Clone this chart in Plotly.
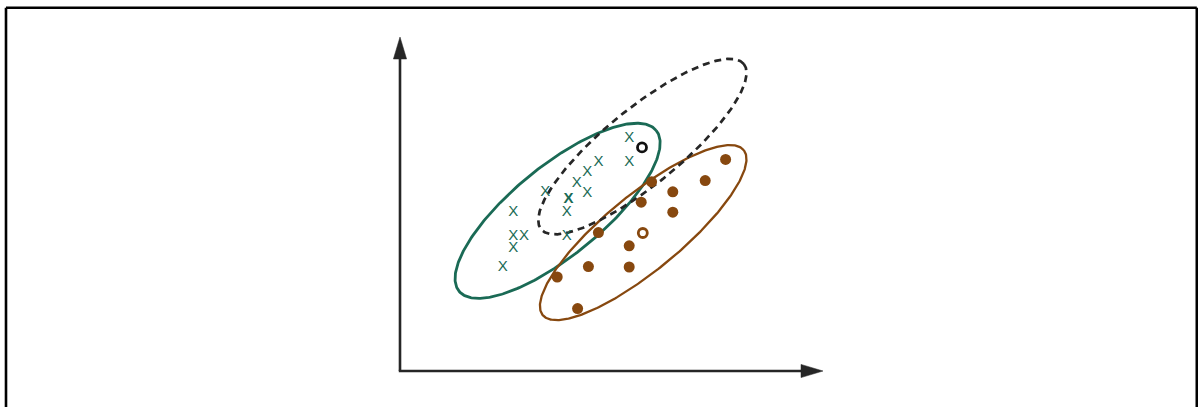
import numpy as np
import plotly.graph_objects as go

# ---- data (units: 1 unit = 40 px, origin at the drawn axes corner) ----
class_x_x = [5.73, 5.73, 4.96, 4.68, 4.42, 4.68, 3.63, 4.17, 4.17, 2.83, 2.83, 3.10, 2.83, 2.57]
class_x_y = [5.82, 5.23, 5.23, 4.96, 4.69, 4.44, 4.48, 3.96, 3.36, 3.96, 3.38, 3.36, 3.07, 2.59]
bold_x_x = [4.21]
bold_x_y = [4.29]

class_dot_x = [8.14, 7.63, 6.29, 6.82, 6.03, 6.82, 4.96, 5.73, 4.71, 5.73, 3.93, 4.44]
class_dot_y = [5.29, 4.76, 4.73, 4.48, 4.22, 3.97, 3.46, 3.13, 2.61, 2.60, 2.35, 1.56]

mean_black = (6.05, 5.59)
mean_brown = (6.07, 3.45)

# ellipses: center x, center y, semi-major, semi-minor, angle (deg)
ell_green = (3.94, 4.005, 3.18, 1.12, 39.2)
ell_brown = (6.08, 3.46, 3.25, 0.945, 39.4)
ell_dash = (6.06, 5.61, 3.27, 0.95, 39.2)

GREEN = "#1a6a55"
BROWN = "#87480f"
DARK = "#262626"


def ellipse(cx, cy, a, b, ang):
    t = np.linspace(0, 2 * np.pi, 361)
    th = np.deg2rad(ang)
    x = cx + a * np.cos(t) * np.cos(th) - b * np.sin(t) * np.sin(th)
    y = cy + a * np.cos(t) * np.sin(th) + b * np.sin(t) * np.cos(th)
    return x, y


fig = go.Figure()

ex, ey = ellipse(*ell_green)
fig.add_trace(go.Scatter(x=ex, y=ey, mode="lines", line=dict(color=GREEN, width=2.8), hoverinfo="skip"))
ex, ey = ellipse(*ell_brown)
fig.add_trace(go.Scatter(x=ex, y=ey, mode="lines", line=dict(color=BROWN, width=2.3), hoverinfo="skip"))
ex, ey = ellipse(*ell_dash)
fig.add_trace(go.Scatter(x=ex, y=ey, mode="lines", line=dict(color=DARK, width=2.7, dash="7px,5px"), hoverinfo="skip"))

fig.add_trace(go.Scatter(x=class_x_x, y=class_x_y, mode="text", text=["X"] * len(class_x_x),
                         textposition="middle center",
                         textfont=dict(family="Liberation Sans", size=15, color=GREEN)))
fig.add_trace(go.Scatter(x=bold_x_x, y=bold_x_y, mode="text", text=["<b>X</b>"],
                         textposition="middle center",
                         textfont=dict(family="Liberation Sans", size=15, color=GREEN)))
fig.add_trace(go.Scatter(x=class_dot_x, y=class_dot_y, mode="markers",
                         marker=dict(symbol="circle", size=11, color=BROWN, line=dict(width=0))))
fig.add_trace(go.Scatter(x=[mean_black[0]], y=[mean_black[1]], mode="markers",
                         marker=dict(symbol="circle-open", size=9, color="#111111", line=dict(width=2.8))))
fig.add_trace(go.Scatter(x=[mean_brown[0]], y=[mean_brown[1]], mode="markers",
                         marker=dict(symbol="circle-open", size=9, color=BROWN, line=dict(width=2.8))))

# axes with arrowheads
y_tip = 8.35
x_tip = 10.575
head_len = 0.55
head_half = 0.165
shapes = [
    dict(type="line", xref="x", yref="y", x0=0, y0=0, x1=0, y1=y_tip - head_len + 0.05,
         line=dict(color=DARK, width=2.6)),
    dict(type="line", xref="x", yref="y", x0=-0.03, y0=0, x1=x_tip - head_len + 0.05, y1=0,
         line=dict(color=DARK, width=2.6)),
    dict(type="path", xref="x", yref="y",
         path=f"M {-head_half} {y_tip - head_len} L 0 {y_tip} L {head_half} {y_tip - head_len} Z",
         fillcolor=DARK, line=dict(color=DARK, width=0.5)),
    dict(type="path", xref="x", yref="y",
         path=f"M {x_tip - head_len} {-head_half} L {x_tip} 0 L {x_tip - head_len} {head_half} Z",
         fillcolor=DARK, line=dict(color=DARK, width=0.5)),
    # outer frame (open at bottom)
    dict(type="line", xref="paper", yref="paper", x0=6 / 1198, y0=1 - 7.8 / 407, x1=6 / 1198, y1=-0.05,
         line=dict(color="#000000", width=2.6)),
    dict(type="line", xref="paper", yref="paper", x0=6 / 1198, y0=1 - 7.8 / 407, x1=1196.8 / 1198, y1=1 - 7.8 / 407,
         line=dict(color="#000000", width=2.6)),
    dict(type="line", xref="paper", yref="paper", x0=1196.8 / 1198, y0=1 - 7.8 / 407, x1=1196.8 / 1198, y1=-0.05,
         line=dict(color="#000000", width=2.6)),
]

fig.update_layout(
    width=1198, height=407,
    margin=dict(l=0, r=0, t=0, b=0),
    paper_bgcolor="white", plot_bgcolor="white",
    showlegend=False,
    shapes=shapes,
    xaxis=dict(range=[-10, 19.95], visible=False, fixedrange=True),
    yaxis=dict(range=[-0.9, 9.275], visible=False, fixedrange=True),
)

fig.write_html("out.html", config={"displayModeBar": False},
               post_script="document.body.style.margin='0px';document.body.style.overflow='hidden';")
